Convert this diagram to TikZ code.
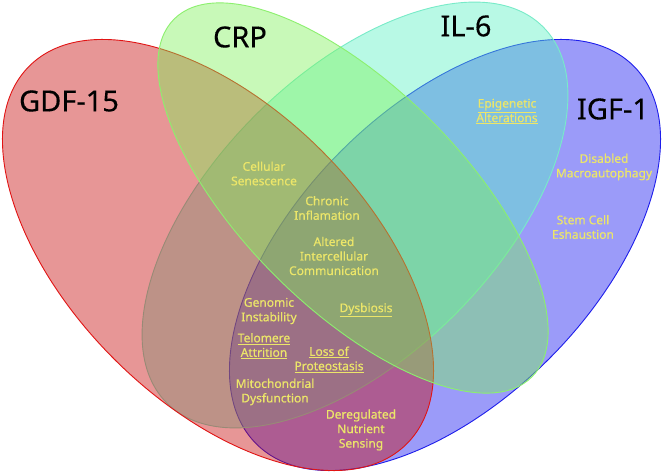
\documentclass[tikz,border=0pt]{standalone}
\usepackage{fontspec}
\setmainfont{Noto Sans}
\newfontfamily\hmfont[FakeBold=0.6]{Noto Sans}
\newfontfamily\bigfont[FakeBold=0.3]{Noto Sans}
\definecolor{redF}{RGB}{198,5,5}
\definecolor{redS}{RGB}{225,20,20}
\definecolor{blueF}{RGB}{17,17,243}
\definecolor{blueS}{RGB}{30,30,235}
\definecolor{cyanF}{RGB}{88,243,195}
\definecolor{cyanS}{RGB}{120,235,200}
\definecolor{greenF}{RGB}{124,243,88}
\definecolor{greenS}{RGB}{140,240,110}
\definecolor{lbl}{RGB}{236,230,105}
\begin{document}
\begin{tikzpicture}[x=1pt,y=-1pt,
  venn/.style={line width=0.9pt, fill opacity=0.42},
  big/.style={font=\bigfont\fontsize{29}{32}\selectfont, text=black, inner sep=0pt},
  hm/.style={font=\hmfont\fontsize{12}{14.5}\selectfont, text=lbl, align=center, inner sep=0pt}]
\fill[white] (0,0) rectangle (662,473);
\useasboundingbox (0,0) rectangle (662,473);
% ellipses, bottom to top
\path[venn, draw=blueS, fill=blueF, shift={(445,255)}, rotate=45] (0,0) ellipse [x radius=267, y radius=147];
\path[venn, draw=cyanS, fill=cyanF, shift={(355,215)}, rotate=45] (0,0) ellipse [x radius=266, y radius=141];
\path[venn, draw=redS, fill=redF, shift={(218,255)}, rotate=-45] (0,0) ellipse [x radius=267, y radius=147];
\path[venn, draw=greenS, fill=greenF, shift={(353,198)}, rotate=-45] (0,0) ellipse [x radius=253, y radius=110];
% set labels
\node[big] (gdf) at (69,101) {GDF-15};
\node[big] (crp) at (240,37) {CRP};
\node[big] (il6) at (466,26) {IL-6};
\node[big] (igf) at (613,109) {IGF-1};
% hallmarks
\node[hm] (sen) at (264,173.5) {Cellular\\Senescence};
\node[hm] (chr) at (327,208) {Chronic\\Inflamation};
\node[hm] (aic) at (334,256) {Altered\\Intercellular\\Communication};
\node[hm] (gen) at (269,311) {Genomic\\Instability};
\node[hm] (dys) at (366,310) {\underline{Dysbiosis}};
\node[hm] (tel) at (264,346) {\underline{Telomere}\\\underline{Attrition}};
\node[hm] (lop) at (329,359.5) {\underline{Loss of}\\\underline{Proteostasis}};
\node[hm] (mit) at (275,392) {Mitochondrial\\Dysfunction};
\node[hm] (dns) at (361,430) {Deregulated\\Nutrient\\Sensing};
\node[hm] (epi) at (507,111.5) {\underline{Epigenetic}\\\underline{Alterations}};
\node[hm] (dma) at (604,167) {Disabled\\Macroautophagy};
\node[hm] (sce) at (583,227) {Stem Cell\\Eshaustion};
\end{tikzpicture}
\end{document}
